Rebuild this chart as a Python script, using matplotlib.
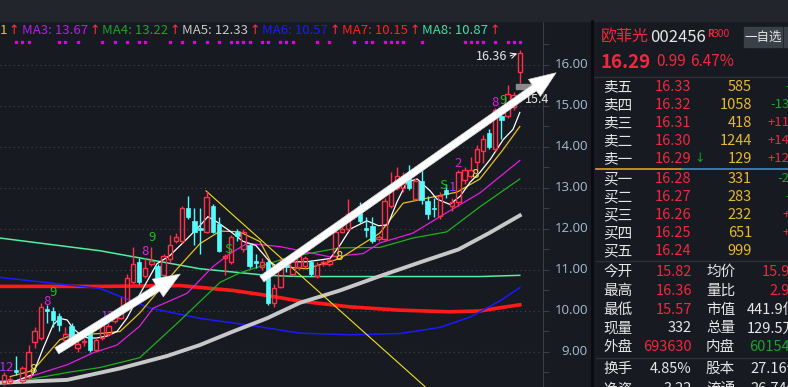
import numpy as np
import matplotlib.pyplot as plt
import matplotlib.transforms as mtransforms
from matplotlib.patches import Rectangle

plt.rcParams['font.family'] = ['Noto Sans CJK SC', 'DejaVu Sans']

W, H = 788, 387

# ---- K线数据 (读自截图) ----
opens = [8.25, 8.28, 8.55, 8.30, 8.40, 9.25, 9.35, 10.05, 10.00, 9.87,
         9.30, 9.63, 9.10, 9.24, 9.50, 9.05, 9.33, 9.45, 9.75, 9.83,
         10.10, 10.70, 11.20, 10.85, 11.15, 11.10, 10.87, 11.28, 11.70, 11.70,
         12.50, 12.20, 12.02, 11.93, 12.55, 12.12, 11.30, 11.20, 11.93, 11.50,
         11.60, 11.22, 11.08, 11.20, 10.20, 10.58, 11.12, 10.90, 11.08, 11.10,
         11.20, 10.85, 11.15, 11.15, 11.35, 11.93, 12.00, 12.30, 12.56, 12.02,
         12.08, 11.75, 11.75, 12.55, 13.00, 13.00, 13.30, 12.73, 13.17, 12.68,
         12.52, 12.32, 12.95, 12.55, 12.65, 13.20, 13.30, 13.63, 13.90, 14.35,
         13.95, 14.75, 14.75, 14.98, 15.82]
closes = [8.45, 8.33, 8.50, 8.60, 9.00, 9.50, 10.10, 10.00, 9.78, 9.65,
          9.45, 9.30, 9.20, 9.26, 9.05, 9.30, 9.65, 9.63, 9.88, 10.00,
          10.80, 11.15, 10.70, 11.05, 11.22, 10.75, 11.33, 11.60, 11.80, 12.50,
          12.30, 11.93, 11.98, 12.78, 11.93, 11.47, 11.35, 11.80, 11.83, 11.92,
          11.10, 11.18, 11.20, 10.20, 10.55, 11.12, 11.07, 11.23, 11.33, 11.30,
          10.90, 11.12, 11.20, 11.25, 11.93, 12.00, 12.37, 12.40, 12.20, 11.98,
          11.70, 11.80, 12.68, 13.00, 13.30, 13.30, 13.00, 13.17, 12.70, 12.37,
          12.48, 12.80, 12.85, 12.65, 13.38, 13.45, 13.45, 13.95, 14.20, 14.00,
          14.90, 14.65, 15.30, 15.27, 16.29]
highs = [8.50, 8.40, 8.90, 8.65, 9.17, 9.60, 10.19, 10.15, 10.10, 9.95,
         9.60, 9.70, 9.30, 9.35, 9.55, 9.35, 9.70, 9.70, 9.95, 10.35,
         10.90, 11.55, 11.30, 11.30, 11.55, 11.15, 11.40, 11.85, 11.90, 12.55,
         12.80, 12.50, 12.50, 12.93, 12.60, 12.30, 11.40, 11.85, 12.00, 12.00,
         11.65, 11.40, 11.30, 11.25, 10.65, 11.30, 11.30, 11.30, 11.40, 11.35,
         11.25, 11.20, 11.25, 11.30, 12.00, 12.30, 12.73, 12.45, 12.65, 12.30,
         12.30, 11.85, 12.75, 13.40, 13.50, 13.40, 13.55, 13.25, 13.45, 12.80,
         12.75, 12.90, 13.10, 12.75, 13.45, 13.50, 13.75, 14.05, 14.30, 14.45,
         14.95, 14.80, 15.50, 15.35, 16.36]
lows = [8.20, 8.22, 8.45, 8.25, 8.35, 9.10, 9.30, 9.70, 9.60, 9.50,
        9.25, 9.25, 9.00, 9.15, 9.00, 9.00, 9.30, 9.40, 9.70, 9.80,
        10.05, 10.65, 10.65, 10.80, 11.10, 10.70, 10.85, 11.20, 11.65, 11.65,
        12.25, 11.60, 11.40, 11.90, 11.90, 11.45, 10.87, 11.15, 11.70, 11.45,
        11.05, 11.05, 11.00, 10.15, 10.10, 10.55, 10.95, 10.85, 11.00, 11.05,
        10.85, 10.80, 11.10, 11.10, 11.30, 11.90, 11.95, 12.25, 12.15, 11.80,
        11.65, 11.70, 11.70, 12.50, 12.95, 12.90, 12.95, 12.70, 12.60, 12.25,
        12.30, 12.25, 12.75, 12.45, 12.55, 13.10, 13.25, 13.40, 13.60, 13.95,
        13.90, 14.20, 14.70, 14.90, 15.57]

# ---- 均线 (按K线序号读取) ----
ma1_x = [2, 4.7, 6.4, 8, 9.1, 10.3, 11.2, 12.7, 13.7, 15.1, 16.8, 18.4, 20, 21.9,
         24.9, 27, 29.8, 31.9, 33.2, 34.7, 36.8, 38.9, 41, 43.3, 45, 46.6, 49.3,
         53.1, 54.7, 56.4, 59.1, 61, 62.5, 64, 65.6, 67.3, 69.4, 70.5, 72.6, 74.3,
         75.9, 77.5, 79.2, 81.3, 82.9, 84]
ma1_y = [8.3, 8.45, 9.1, 9.66, 9.82, 9.78, 9.58, 9.39, 9.34, 9.34, 9.39, 9.5, 9.82,
         10.35, 11.15, 11.35, 11.76, 12.08, 12.3, 12.17, 11.95, 11.7, 11.6, 11.2,
         11.03, 11.2, 11.2, 11.28, 11.6, 12.0, 12.2, 12.08, 12.1, 12.66, 13.14,
         13.22, 12.93, 12.73, 12.6, 12.8, 13.14, 13.38, 13.7, 14.18, 14.43, 14.84]
ma2_x = [1, 4.7, 9.1, 11.2, 15.6, 18.9, 22.1, 28.2, 31.9, 35.2, 38.4, 41.7, 43.8,
         49.3, 54.7, 61.2, 65, 70.5, 73.8, 77.5, 81.3, 84]
ma2_y = [8.4, 8.55, 9.3, 9.42, 9.45, 9.5, 9.95, 11.03, 11.64, 11.95, 11.93, 11.69,
         11.1, 11.03, 11.28, 11.9, 12.63, 12.8, 12.9, 13.22, 13.94, 14.5]
ma3_x = [2.1, 10.3, 14.5, 18.4, 22.1, 24.3, 29.8, 34, 36.8, 39.6, 45, 53.1, 58.5,
         61.2, 66.6, 72.1, 77.5, 84]
ma3_y = [8.3, 8.69, 8.98, 9.17, 9.63, 10.07, 10.43, 11.08, 11.4, 11.65, 11.57,
         11.32, 11.4, 11.66, 11.9, 12.4, 12.88, 13.67]
ma4_x = [3.7, 10.3, 15.6, 22.1, 28.2, 35.2, 38.4, 46.6, 54.7, 61.2, 66.6, 72.1,
         77.5, 84]
ma4_y = [8.32, 8.5, 8.62, 8.86, 9.7, 10.7, 10.93, 11.32, 11.54, 11.55, 11.78,
         11.93, 12.54, 13.22]
ma5_x = [-0.7, 10.3, 18.9, 26.5, 31.9, 37.3, 42.8, 48.2, 54.7, 61.2, 68, 74, 79, 84]
ma5_y = [8.25, 8.32, 8.6, 8.9, 9.17, 9.5, 9.82, 10.2, 10.5, 10.85, 11.2, 11.5,
         11.9, 12.33]
ma6_x = [-0.7, 15.6, 23.8, 31.9, 40.1, 48.2, 56.4, 64.5, 71, 75.9, 80.8, 84]
ma6_y = [10.82, 10.55, 10.07, 9.82, 9.65, 9.46, 9.42, 9.45, 9.6, 9.85, 10.25, 10.57]
ma7_x = [-0.7, 15.6, 28.7, 37.3, 42.8, 48.2, 56.4, 64.5, 72.6, 77.5, 80.8, 84]
ma7_y = [10.6, 10.6, 10.62, 10.5, 10.38, 10.24, 10.1, 10.02, 9.98, 10.0, 10.08, 10.15]
ma8_x = [-0.7, 15.6, 31.9, 42.8, 48.2, 64.5, 77.5, 84]
ma8_y = [11.78, 11.47, 11.03, 10.87, 10.84, 10.84, 10.84, 10.87]

ma_names = ['MA3', 'MA4', 'MA5', 'MA6', 'MA7', 'MA8']
ma_last = ['13.67', '13.22', '12.33', '10.57', '10.15', '10.87']

# 信号标记
sig_idx = [-0.3, 0.9, 4.7, 7.0, 8.0, 16.3, 17.3, 23.0, 24.1, 36.5, 54.6, 71.5, 73.0, 74.0, 76.7, 80.0, 81.3]
sig_price = [8.62, 8.62, 8.57, 10.24, 10.46, 9.87, 9.87, 11.45, 11.8, 11.5, 11.33, 13.05, 13.02, 13.6, 13.33, 15.08, 15.13]
sig_text = ['1', '2', '8', '8', '9', '1', '2', '8', '9', 'S', '8', 'S', '1', '2', '8', '8', '9']
sig_color = ['#9a3cf0', '#d020e0', '#e8e040', '#e020e0', '#20c020', '#9a3cf0', '#d020e0',
             '#e020e0', '#20c020', '#20c020', '#e8e040', '#20c020', '#9a3cf0', '#d020e0',
             '#e8e040', '#e020e0', '#20c020']
dot_idx = [2, 3, 4, 9, 10, 12, 16, 18, 20, 22, 23, 27, 29, 31, 33, 35, 37, 38, 39, 40,
           42, 43, 45, 46, 47, 51, 53, 57, 59, 60, 62, 63, 64, 65, 68, 75, 76, 77, 78,
           80, 82, 83, 84]

# 画线工具: 箭头和趋势线 (序号, 价格)
arrow1 = [(8.6, 9.03), (28.7, 10.90)]
arrow2 = [(42.0, 10.78), (89.9, 15.81)]
trend = [(32.9, 12.93), (68.6, 8.15)]

price_ticks = [16, 15, 14, 13, 12, 11, 10, 9]

# ---- 右侧盘口 ----
ask_lbl = ['卖五', '卖四', '卖三', '卖二', '卖一']
ask_px = ['16.33', '16.32', '16.31', '16.30', '16.29']
ask_vol = ['585', '1058', '418', '1244', '129']
ask_chg = ['-8', '-135', '+117', '+146', '+128']
bid_lbl = ['买一', '买二', '买三', '买四', '买五']
bid_px = ['16.28', '16.27', '16.26', '16.25', '16.24']
bid_vol = ['331', '283', '232', '651', '999']
bid_chg = ['-22', '-9', '+9', '+8', '']
st_l1 = ['今开', '最高', '最低', '现量', '外盘']
st_v1 = ['15.82', '16.36', '15.57', '332', '693630']
st_c1 = ['r', 'r', 'r', 'w', 'r']
st_l2 = ['均价', '量比', '市值', '总量', '内盘']
st_v2 = ['15.92', '2.96', '441.9亿', '129.5万', '601543']
st_c2 = ['r', 'r', 'w', 'w', 'g']

BG = '#171a21'
RED = '#ff3048'
CYAN = '#54fcfc'
TXT_RED = '#f0283e'
TXT_GRN = '#1fa02f'
TXT_WHT = '#e6e6e6'
TXT_YEL = '#e8b830'
cmap = {'r': TXT_RED, 'w': TXT_WHT, 'g': TXT_GRN}

fig = plt.figure(figsize=(W / 100, H / 100), dpi=100)
fig.patch.set_facecolor(BG)
fig.patches.append(Rectangle((0, 1 - 21 / H), 1, 21 / H, transform=fig.transFigure,
                             color='#22252c', zorder=0))

ax = fig.add_axes([0, 0, 543 / W, 366 / H])
ax.set_facecolor(BG)
ax.set_xlim(-0.65, 87.78)
ax.set_ylim(8.146, 17.073)
for s in ['top', 'left', 'bottom']:
    ax.spines[s].set_visible(False)
ax.spines['right'].set_color('#3a3e47')
ax.set_xticks([])
ax.yaxis.set_ticks_position('right')
ax.set_yticks(np.arange(8.5, 17.0, 0.5))
ax.tick_params(axis='y', length=4, color='#3a3e47', labelright=False, direction='out')

for p in price_ticks:
    ax.axhline(p, color='#40454f', lw=0.8, ls=(0, (1, 3)), zorder=1)

trans = mtransforms.blended_transform_factory(fig.transFigure, ax.transData)
for p in price_ticks:
    ax.text(588 / W, p, '%.2f' % p, transform=trans, ha='right', va='center',
            color='#a8bcd6', fontsize=9.5, family=['Open Sans', 'DejaVu Sans'])

# 均线
ax.plot(ma8_x, ma8_y, color='#4ff0a0', lw=1.1, zorder=2)
ax.plot(ma7_x, ma7_y, color='#ff1a1a', lw=2.6, zorder=2)
ax.plot(ma6_x, ma6_y, color='#1a1aff', lw=1.1, zorder=2)
ax.plot(ma5_x, ma5_y, color='#c8c8c8', lw=2.8, zorder=2)
ax.plot(ma4_x, ma4_y, color='#20b020', lw=0.9, zorder=2)
ax.plot(ma3_x, ma3_y, color='#e020e0', lw=0.9, zorder=2)
ax.plot(ma2_x, ma2_y, color='#e8c020', lw=0.9, zorder=2)
ax.plot(ma1_x, ma1_y, color='#ffffff', lw=0.9, zorder=2)

# 趋势线
ax.plot([trend[0][0], trend[1][0]], [trend[0][1], trend[1][1]], color='#f0e020', lw=0.8, zorder=2)

# K线
bw = 0.72
for i, (o, c, h, l) in enumerate(zip(opens, closes, highs, lows)):
    top, bot = max(o, c), min(o, c)
    if c >= o:
        ax.vlines(i, top, h, color=RED, lw=1, zorder=3)
        ax.vlines(i, l, bot, color=RED, lw=1, zorder=3)
        ax.add_patch(Rectangle((i - bw / 2, bot), bw, max(top - bot, 0.02),
                               facecolor='none', edgecolor=RED, lw=1, zorder=3))
    else:
        ax.vlines(i, l, h, color=CYAN, lw=1, zorder=3)
        ax.add_patch(Rectangle((i - bw / 2, bot), bw, top - bot,
                               facecolor=CYAN, edgecolor=CYAN, lw=0.5, zorder=3))

# 信号
for x, y, t, c in zip(sig_idx, sig_price, sig_text, sig_color):
    ax.text(x, y, t, color=c, fontsize=9.5, ha='center', va='center', zorder=4)

ax.plot(dot_idx, [16.56] * len(dot_idx), ls='none', marker='s', ms=1.6,
        color='#e000e0', zorder=4)

# 最高价标注
ax.annotate('', xy=(84, 16.3), xytext=(82.0, 16.2),
            arrowprops=dict(arrowstyle='->', color='white', lw=0.7), zorder=4)
ax.text(81.9, 16.2, '16.36', color='#e6e6e6', fontsize=9, ha='right', va='center', zorder=4)
ax.add_patch(Rectangle((83.4, 15.41), 3.9, 0.13, color='#8a8a8a', zorder=4, clip_on=False))
ax.text(84.85, 15.15, '15.4', color='#e6e6e6', fontsize=9, ha='left', va='center', zorder=4)

# 白色箭头
for a in [arrow1, arrow2]:
    ax.annotate('', xy=a[1], xytext=a[0], annotation_clip=False,
                arrowprops=dict(arrowstyle='simple,head_length=0.95,head_width=0.75,tail_width=0.26',
                                mutation_scale=20, facecolor='white', edgecolor='#d8d8d8',
                                lw=0.5, shrinkA=0, shrinkB=0), zorder=6)

# 顶部均线数值
hy = 1 - 30 / H
fig.text(0 / W, hy, '1', color='#d8c830', fontsize=9.5, va='center')
fig.text(8 / W, hy, '↑', color='#ff3040', fontsize=9, va='center', family='DejaVu Sans')
ma_colors = ['#b020e8', '#20a030', '#c8c8c8', '#1a1aff', '#ff2020', '#40e0a0']
x0 = 22
for n, v, c in zip(ma_names, ma_last, ma_colors):
    fig.text(x0 / W, hy, '%s: %s' % (n, v), color=c, fontsize=9.5, va='center')
    fig.text((x0 + 67) / W, hy, '↑', color='#ff3040', fontsize=9, va='center', family='DejaVu Sans')
    x0 += 80

# ---- 右侧面板 ----
fig.add_artist(plt.Line2D([592 / W, 592 / W], [0, 1 - 21 / H], color='#0a0b0e', lw=2))
pa = fig.add_axes([594 / W, 0, 194 / W, 1 - 21 / H])
pa.set_facecolor(BG)
pa.set_xlim(0, 194)
pa.set_ylim(387, 21)
pa.axis('off')

pa.text(7, 37, '欧菲光', color=TXT_RED, fontsize=11.5, va='center')
pa.text(56, 37, '002456', color=TXT_WHT, fontsize=12, va='center')
pa.text(113, 34, 'R', color=TXT_RED, fontsize=7, fontweight='bold', va='center')
pa.text(119, 34, '300', color=TXT_RED, fontsize=7.5, va='center')
pa.add_patch(Rectangle((150, 27), 38, 20, color='#3b3f48'))
pa.add_patch(Rectangle((190, 27), 10, 20, color='#3b3f48', clip_on=True))
pa.text(169, 37, '一自选', color=TXT_WHT, fontsize=9, ha='center', va='center')
pa.text(7, 62, '16.29', color=TXT_RED, fontsize=13.5, fontweight='bold', va='center')
pa.text(62, 62, '0.99', color=TXT_RED, fontsize=11, va='center')
pa.text(96, 62, '6.47%', color=TXT_RED, fontsize=11, va='center')
pa.plot([0, 194], [77, 77], color='#2c3038', lw=1)

def row(y, lbl, px, vol, chg):
    pa.text(9, y, lbl, color=TXT_WHT, fontsize=10.5, va='center')
    pa.text(97, y, px, color=TXT_RED, fontsize=10.5, ha='right', va='center')
    pa.text(158, y, vol, color=TXT_YEL, fontsize=10.5, ha='right', va='center')
    c = TXT_GRN if chg.startswith('-') else TXT_RED
    pa.text(203, y, chg, color=c, fontsize=9.5, ha='right', va='center', clip_on=True)

for k in range(5):
    row(87 + 18 * k, ask_lbl[k], ask_px[k], ask_vol[k], ask_chg[k])
pa.text(100, 159, '↓', color='#1a9a2a', fontsize=9, va='center', family='DejaVu Sans')
pa.plot([2, 88], [169, 169], color='#e0a020', lw=1.2)
pa.plot([88, 194], [169, 169], color='#3a8ad0', lw=1.2)
for k in range(5):
    row(179 + 18 * k, bid_lbl[k], bid_px[k], bid_vol[k], bid_chg[k])
pa.plot([2, 194], [261, 261], color='#2c3038', lw=1)

for k in range(5):
    y = 272 + 18.8 * k
    pa.text(9, y, st_l1[k], color=TXT_WHT, fontsize=10.5, va='center')
    pa.text(98, y, st_v1[k], color=cmap[st_c1[k]], fontsize=10.5, ha='right', va='center')
    pa.text(112, y, st_l2[k], color=TXT_WHT, fontsize=10.5, va='center')
    pa.text(204, y, st_v2[k], color=cmap[st_c2[k]], fontsize=10.5, ha='right', va='center',
            clip_on=True)
pa.plot([2, 194], [358, 358], color='#2c3038', lw=1)
for y, a, b, c, d in [(369, '换手', '4.85%', '股本', '27.16亿'), (389, '净资', '3.22', '流通', '26.74亿')]:
    pa.text(9, y, a, color=TXT_WHT, fontsize=10.5, va='center', clip_on=True)
    pa.text(98, y, b, color=TXT_WHT, fontsize=10.5, ha='right', va='center', clip_on=True)
    pa.text(112, y, c, color=TXT_WHT, fontsize=10.5, va='center', clip_on=True)
    pa.text(208, y, d, color=TXT_WHT, fontsize=10.5, ha='right', va='center', clip_on=True)

fig.savefig('out.png', dpi=100, facecolor=fig.get_facecolor())
